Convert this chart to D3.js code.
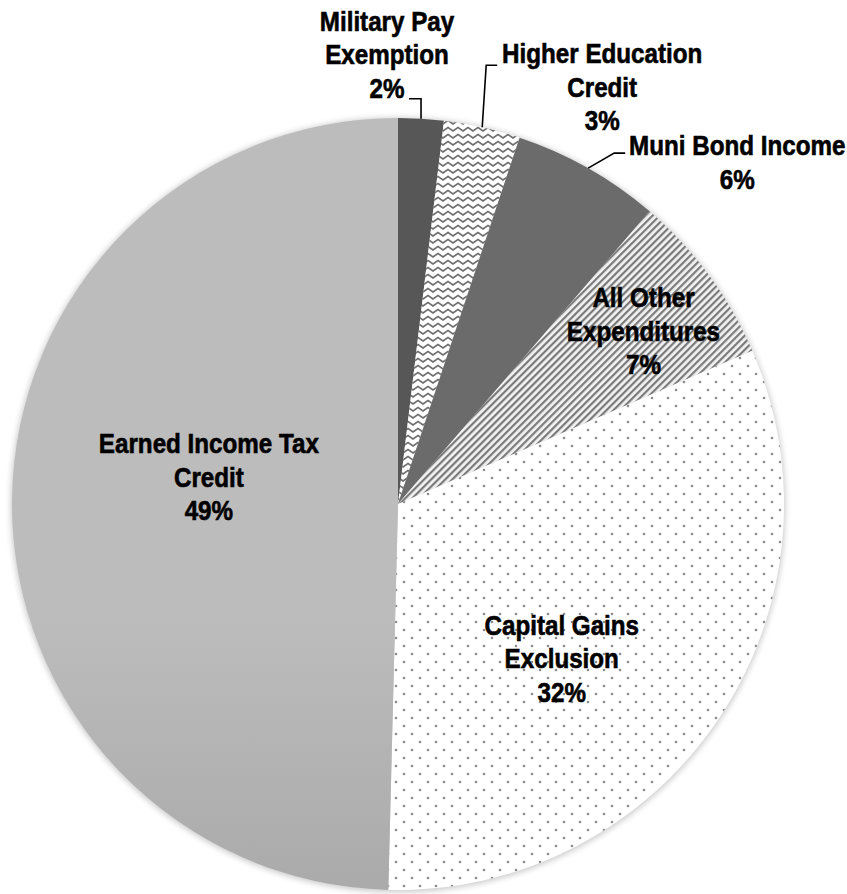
<!DOCTYPE html>
<html>
<head>
<meta charset="utf-8">
<script src="https://cdn.jsdelivr.net/npm/d3@7"></script>
<style>
  html, body { margin: 0; padding: 0; background: #fff; }
  #chart { width: 847px; height: 894px; }
  text { font-family: "Liberation Sans", Arial, sans-serif; font-weight: bold; fill: #000; stroke: #000; stroke-width: 0.6px; }
</style>
</head>
<body>
<div id="chart"></div>
<script>
// slices clockwise from 12 o'clock
const categories = ["Military Pay Exemption", "Higher Education Credit", "Muni Bond Income", "All Other Expenditures", "Capital Gains Exclusion", "Earned Income Tax Credit"]
const shares = [1.9, 3.2, 6.2, 7.2, 31.9, 49.6]
const pctLabels = ["2%", "3%", "6%", "7%", "32%", "49%"]
const labelLines = [
    ["Military Pay", "Exemption"],
    ["Higher Education", "Credit"],
    ["Muni Bond Income"],
    ["All Other", "Expenditures"],
    ["Capital Gains", "Exclusion"],
    ["Earned Income Tax", "Credit"]
]

const width = 847, height = 894
const cx = 398, cy = 504, radius = 386
const lineH = 33.5
const narrow = 0.88   // squeeze Liberation Sans toward Arial Narrow

const svg = d3.select("#chart").append("svg")
    .attr("width", width)
    .attr("height", height)

const defs = svg.append("defs")

// soft shadow round the pie
const shadow = defs.append("filter").attr("id", "shadow")
    .attr("x", "-10%").attr("y", "-10%").attr("width", "120%").attr("height", "120%")
shadow.append("feGaussianBlur").attr("stdDeviation", 3)

// fills per slice
const grad = defs.append("linearGradient").attr("id", "eitcGrad")
    .attr("gradientUnits", "userSpaceOnUse")
    .attr("x1", 0).attr("y1", cy - radius).attr("x2", 0).attr("y2", cy + radius)
grad.append("stop").attr("offset", "0%").attr("stop-color", "#bcbcbc")
grad.append("stop").attr("offset", "100%").attr("stop-color", "#898989")

const wave = defs.append("pattern").attr("id", "wave")
    .attr("patternUnits", "userSpaceOnUse").attr("width", 10).attr("height", 7)
wave.append("rect").attr("width", 10).attr("height", 7).attr("fill", "#fff")
wave.append("path")
    .attr("d", "M-5,5 L0,1.5 L5,5 L10,1.5 L15,5")
    .attr("fill", "none").attr("stroke", "#6e6e6e").attr("stroke-width", 1.6)

const stripes = defs.append("pattern").attr("id", "stripes")
    .attr("patternUnits", "userSpaceOnUse").attr("width", 5).attr("height", 5)
    .attr("patternTransform", "rotate(45)")
stripes.append("rect").attr("width", 5).attr("height", 5).attr("fill", "#f2f2f2")
stripes.append("rect").attr("width", 2.2).attr("height", 5).attr("fill", "#7a7a7a")

const dots = defs.append("pattern").attr("id", "dots")
    .attr("patternUnits", "userSpaceOnUse").attr("width", 16).attr("height", 16)
    .attr("x", cx + 4).attr("y", cy + 2)
dots.append("rect").attr("width", 16).attr("height", 16).attr("fill", "#fff")
dots.append("circle").attr("cx", 4).attr("cy", 4).attr("r", 1.3).attr("fill", "#8c8c8c")
dots.append("circle").attr("cx", 12).attr("cy", 12).attr("r", 1.3).attr("fill", "#8c8c8c")

const fills = ["#575757", "url(#wave)", "#6b6b6b", "url(#stripes)", "url(#dots)", "url(#eitcGrad)"]

const pie = d3.pie().sort(null).value(d => d)
const arcs = pie(shares)
const arc = d3.arc().innerRadius(0).outerRadius(radius)

const g = svg.append("g").attr("transform", `translate(${cx},${cy})`)

g.append("circle")
    .attr("r", radius + 1)
    .attr("cy", 1)
    .attr("fill", "#000")
    .attr("opacity", 0.22)
    .attr("filter", "url(#shadow)")

g.selectAll("path.slice")
    .data(arcs)
    .join("path")
    .attr("class", "slice")
    .attr("d", arc)
    .attr("fill", (d, i) => fills[i])

// point at the middle angle of a slice, r from the centre
const rimPoint = (d, r) => {
    const a = (d.startAngle + d.endAngle) / 2
    return [r * Math.sin(a), -r * Math.cos(a)]
}

// label layout: inside labels sit on a scaled centroid plus a nudge,
// outside labels hang off a leader line from the rim
const layout = [
    { out: true, leader: p => [p, [p[0], p[1] - 20], [p[0] - 12, p[1] - 20]], text: p => [p[0] - 34, p[1] - 21 - 2 * lineH] },
    { out: true, leader: p => [p, [p[0] + 4, p[1] - 62], [p[0] + 15, p[1] - 62]], text: p => [p[0] + 120, p[1] - 64] },
    { out: true, leader: p => [p, [p[0] + 26, p[1] - 15], [p[0] + 37, p[1] - 15]], text: p => [p[0] + 149, p[1] - 13] },
    { out: false, r: 0.78, dx: 3, dy: 6 },
    { out: false, r: 0.59, dx: -25, dy: 28 },
    { out: false, r: 0.49, dx: 0, dy: -24 }
]

const labels = svg.append("g").attr("transform", `translate(${cx},${cy})`)

arcs.forEach((d, i) => {
    const L = layout[i]
    const lines = labelLines[i].concat(pctLabels[i])
    let x, y0
    if (L.out) {
        const p = rimPoint(d, radius)
        labels.append("path")
            .attr("d", d3.line()(L.leader(p)))
            .attr("fill", "none")
            .attr("stroke", "#000")
            .attr("stroke-width", 1.6)
        const t = L.text(p)
        x = t[0]
        y0 = t[1]
    } else {
        const c = rimPoint(d, radius * L.r)
        x = c[0] + L.dx
        y0 = c[1] + L.dy - (lines.length - 1) * lineH / 2 + 9
    }
    const text = labels.append("text")
        .attr("text-anchor", "middle")
        .attr("font-size", 27.5)
        .attr("transform", `translate(${x},0) scale(${narrow},1)`)
    lines.forEach((s, j) => {
        text.append("tspan")
            .attr("x", 0)
            .attr("y", y0 + j * lineH)
            .text(s)
    })
})
</script>
</body>
</html>
